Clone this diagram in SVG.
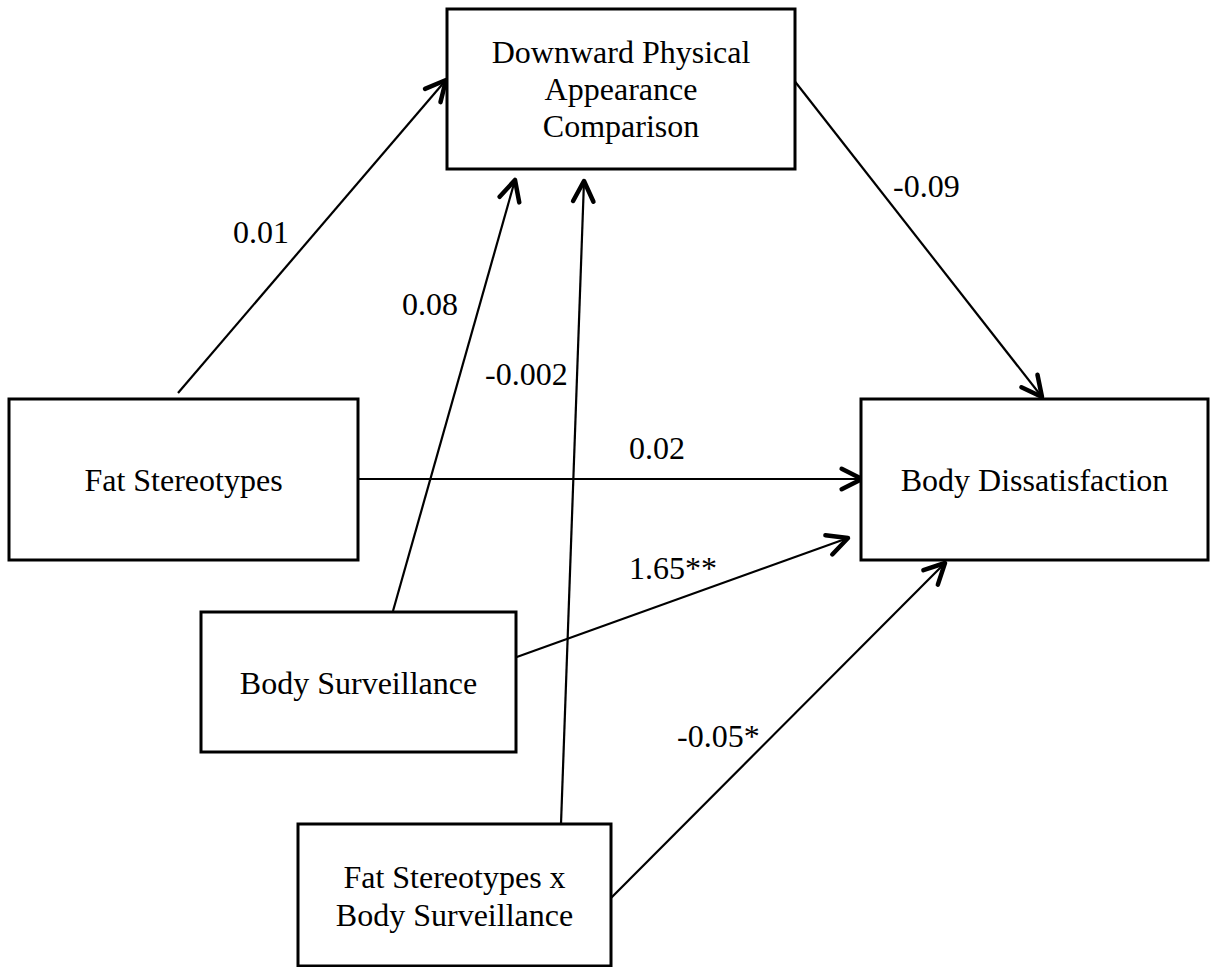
<svg xmlns="http://www.w3.org/2000/svg" width="1210" height="967" viewBox="0 0 1210 967">
  <defs>
    <style>
      .box { fill: #ffffff; stroke: #000000; stroke-width: 3; }
      .node-text { font-family: "Liberation Serif", "Times New Roman", serif; font-size: 32px; fill: #000000; text-anchor: middle; }
      .label { font-family: "Liberation Serif", "Times New Roman", serif; font-size: 32px; fill: #000000; }
      .conn { stroke: #000000; stroke-width: 2.2; fill: none; marker-end: url(#arrow); }
    </style>
    <marker id="arrow" markerUnits="userSpaceOnUse" markerWidth="30" markerHeight="30" viewBox="-24 -14 28 28" refX="0" refY="0" orient="auto">
      <path d="M -19 -9.5 L 0 0 L -19 9.5" fill="none" stroke="#000000" stroke-width="4.2" stroke-linecap="round" stroke-linejoin="round"/>
    </marker>
  </defs>
  <rect width="1210" height="967" fill="#ffffff"/>

  <g id="connectors">
    <line class="conn" x1="178" y1="393" x2="446" y2="80"/>
    <line class="conn" x1="393" y1="611" x2="515" y2="180"/>
    <line class="conn" x1="561" y1="824" x2="584" y2="181"/>
    <line class="conn" x1="359" y1="479" x2="862" y2="479"/>
    <line class="conn" x1="514" y1="658" x2="848" y2="538"/>
    <line class="conn" x1="611" y1="898" x2="945" y2="563"/>
    <line class="conn" x1="793" y1="79" x2="1042" y2="397"/>
  </g>

  <g id="edge-labels">
    <text class="label" x="233" y="243">0.01</text>
    <text class="label" x="402" y="315">0.08</text>
    <text class="label" x="485" y="385">-0.002</text>
    <text class="label" x="629" y="459">0.02</text>
    <text class="label" x="629" y="579">1.65**</text>
    <text class="label" x="677" y="747">-0.05*</text>
    <text class="label" x="893" y="197">-0.09</text>
  </g>

  <g id="node-comparison">
    <rect class="box" x="447" y="9" width="348" height="160"/>
    <text class="node-text" x="621" y="63">Downward Physical</text>
    <text class="node-text" x="621" y="100">Appearance</text>
    <text class="node-text" x="621" y="137">Comparison</text>
  </g>

  <g id="node-fat-stereotypes">
    <rect class="box" x="9" y="399" width="349" height="161"/>
    <text class="node-text" x="183.5" y="491">Fat Stereotypes</text>
  </g>

  <g id="node-body-dissatisfaction">
    <rect class="box" x="861" y="399" width="347" height="161"/>
    <text class="node-text" x="1034.5" y="491">Body Dissatisfaction</text>
  </g>

  <g id="node-body-surveillance">
    <rect class="box" x="201" y="612" width="315" height="140"/>
    <text class="node-text" x="358.5" y="694">Body Surveillance</text>
  </g>

  <g id="node-interaction">
    <rect class="box" x="298" y="824" width="313" height="142"/>
    <text class="node-text" x="454.5" y="888">Fat Stereotypes x</text>
    <text class="node-text" x="454.5" y="926">Body Surveillance</text>
  </g>
</svg>
